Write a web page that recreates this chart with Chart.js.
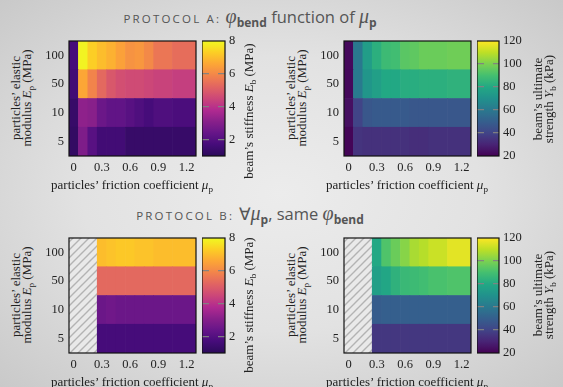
<!DOCTYPE html>
<html>
<head>
<meta charset="utf-8">
<script src="https://cdn.jsdelivr.net/npm/chart.js@4.4.0/dist/chart.umd.min.js"></script>
<style>
html, body { margin: 0; padding: 0; }
body {
  width: 563px; height: 387px; overflow: hidden; position: relative;
  background: radial-gradient(ellipse at 50% 50%, #ececec 0%, #e2e2e2 50%, #c9c9c9 100%);
  font-family: "Liberation Serif", serif; color: #222;
}
canvas { position: absolute; }
.lbl { position: absolute; white-space: nowrap; text-align: center; font-size: 13px; line-height: 11px; transform: translate(-50%, -50%); }
.rot { transform: translate(-50%, -50%) rotate(-90deg); }
.sub { font-size: 0.7em; position: relative; top: 0.3em; font-style: normal; }
.title { position: absolute; white-space: nowrap; transform: translate(-50%, -50%); font-family: "Open Sans", sans-serif; font-size: 16.5px; color: #555; }
.sc { font-size: 11.5px; letter-spacing: 2.2px; }
.m { font-family: "Liberation Serif", serif; font-style: italic; font-size: 20px; }
.bs { font-weight: bold; font-size: 12px; position: relative; top: 0.35em; }
</style>
</head>
<body>

<div class="title" style="left:250px; top:16px"><span class="sc">PROTOCOL A:</span> <span class="m">φ</span><span class="bs">bend</span> function of <span class="m">μ</span><span class="bs">p</span></div>
<div class="title" style="left:250px; top:213px"><span class="sc">PROTOCOL B:</span> ∀<span class="m">μ</span><span class="bs">p</span>, same <span class="m">φ</span><span class="bs">bend</span></div>

<canvas id="hmStiffA" width="163" height="143" style="left:39px; top:35px"></canvas>
<canvas id="cbStiffA" width="47" height="127" style="left:202px; top:33px"></canvas>
<canvas id="hmStrengthA" width="163" height="143" style="left:314px; top:35px"></canvas>
<canvas id="cbStrengthA" width="56" height="127" style="left:477px; top:33px"></canvas>
<canvas id="hmStiffB" width="163" height="143" style="left:39px; top:232px"></canvas>
<canvas id="cbStiffB" width="47" height="127" style="left:202px; top:230px"></canvas>
<canvas id="hmStrengthB" width="163" height="143" style="left:314px; top:232px"></canvas>
<canvas id="cbStrengthB" width="56" height="127" style="left:477px; top:230px"></canvas>

<div class="lbl rot" style="left:22px; top:98px">particles’ elastic<br>modulus <i>E</i><span class="sub">p</span> (MPa)</div>
<div class="lbl rot" style="left:297px; top:98px">particles’ elastic<br>modulus <i>E</i><span class="sub">p</span> (MPa)</div>
<div class="lbl rot" style="left:22px; top:295px">particles’ elastic<br>modulus <i>E</i><span class="sub">p</span> (MPa)</div>
<div class="lbl rot" style="left:297px; top:295px">particles’ elastic<br>modulus <i>E</i><span class="sub">p</span> (MPa)</div>

<div class="lbl rot" style="left:249px; top:111px">beam’s stiffness <i>E</i><span class="sub">b</span> (MPa)</div>
<div class="lbl rot" style="left:249px; top:305px">beam’s stiffness <i>E</i><span class="sub">b</span> (MPa)</div>
<div class="lbl rot" style="left:544px; top:99px">beam’s ultimate<br>strength <i>Y</i><span class="sub">b</span> (kPa)</div>
<div class="lbl rot" style="left:544px; top:295px">beam’s ultimate<br>strength <i>Y</i><span class="sub">b</span> (kPa)</div>

<div class="lbl" style="left:132px; top:185px">particles’ friction coefficient <i>μ</i><span class="sub">p</span></div>
<div class="lbl" style="left:407px; top:185px">particles’ friction coefficient <i>μ</i><span class="sub">p</span></div>
<div class="lbl" style="left:132px; top:382px">particles’ friction coefficient <i>μ</i><span class="sub">p</span></div>
<div class="lbl" style="left:407px; top:382px">particles’ friction coefficient <i>μ</i><span class="sub">p</span></div>

<script>
// rows: particles' elastic modulus E_p (MPa), top to bottom
var rows = ['100', '50', '10', '5'];
// columns: particles' friction coefficient mu_p and the cell edges around them
var muValues = [0, 0.1, 0.2, 0.3, 0.4, 0.5, 0.6, 0.7, 0.8, 0.95, 1.2];
var muEdges = [-0.05, 0.05, 0.15, 0.25, 0.35, 0.45, 0.55, 0.65, 0.75, 0.85, 1.05, 1.3];
var muTicks = [0, 0.3, 0.6, 0.9, 1.2];
var stiffTicks = [2, 4, 6, 8];
var strengthTicks = [20, 40, 60, 80, 100, 120];

// protocol A, beam's stiffness E_b (MPa)
var stiffA = [
  [1.7, 7.9, 7.3, 7.0, 6.8, 6.5, 6.2, 6.3, 6.0, 5.6, 5.4],
  [1.6, 6.6, 5.9, 5.3, 4.9, 4.7, 4.6, 4.6, 4.5, 4.4, 4.3],
  [1.3, 3.2, 3.1, 2.5, 2.3, 2.3, 2.1, 1.9, 1.7, 1.9, 1.8],
  [1.2, 2.9, 2.1, 1.6, 1.6, 1.6, 1.3, 1.3, 1.3, 1.3, 1.3]
];
// protocol A, beam's ultimate strength Y_b (kPa)
var strengthA = [
  [22, 60, 75, 83, 88, 89, 94, 95, 97, 97, 98],
  [22, 61, 72, 76, 80, 80, 82, 82, 83, 83, 84],
  [24, 40, 47, 48, 48, 48, 48, 47, 47, 47, 47],
  [21, 35, 34, 34, 34, 34, 34, 33, 33, 34, 34]
];
// protocol B (no run for mu_p < 0.3)
var stiffB = [
  [null, null, null, 7.0, 7.1, 7.2, 7.2, 7.1, 7.1, 7.0, 7.0],
  [null, null, null, 5.3, 5.3, 5.3, 5.3, 5.3, 5.3, 5.3, 5.3],
  [null, null, null, 2.5, 2.6, 2.5, 2.5, 2.5, 2.5, 2.5, 2.5],
  [null, null, null, 1.7, 1.7, 1.7, 1.7, 1.7, 1.7, 1.7, 1.7]
];
var strengthB = [
  [null, null, null, 80, 92, 97, 102, 107, 109, 112, 116],
  [null, null, null, 76, 79, 84, 87, 88, 89, 91, 92],
  [null, null, null, 49, 50, 50, 50, 50, 50, 50, 50],
  [null, null, null, 36, 36, 36, 36, 36, 36, 36, 36]
];

var plasma = ['#2b0a5a', '#460c7a', '#661588', '#88208a', '#b12a90', '#cc4778', '#e16462', '#f2844b', '#fca636', '#fcce25', '#f0f921'];
var viridis = ['#440154', '#482475', '#414487', '#355f8d', '#2a788e', '#21918c', '#22a884', '#44bf70', '#7ad151', '#bddf26', '#fde725'];

Chart.defaults.font.family = '"Liberation Serif", serif';
Chart.defaults.font.size = 12.5;
Chart.defaults.color = '#222';

function hex(h) {
  return [parseInt(h.substr(1, 2), 16), parseInt(h.substr(3, 2), 16), parseInt(h.substr(5, 2), 16)];
}
function cmapColor(stops, t) {
  t = Math.max(0, Math.min(1, t));
  var f = t * (stops.length - 1);
  var i = Math.min(Math.floor(f), stops.length - 2);
  var a = hex(stops[i]), b = hex(stops[i + 1]), k = f - i;
  return 'rgb(' + [0, 1, 2].map(function (j) { return Math.round(a[j] + (b[j] - a[j]) * k); }).join(',') + ')';
}

var hatchTile = document.createElement('canvas');
hatchTile.width = 8; hatchTile.height = 8;
(function () {
  var g = hatchTile.getContext('2d');
  g.fillStyle = '#e9e9e9';
  g.fillRect(0, 0, 8, 8);
  g.strokeStyle = '#b3b3b3';
  g.lineWidth = 1.4;
  g.beginPath();
  g.moveTo(-2, 10); g.lineTo(10, -2);
  g.moveTo(-2, 2); g.lineTo(2, -2);
  g.moveTo(6, 10); g.lineTo(10, 6);
  g.stroke();
})();
var hatch = hatchTile.getContext('2d').createPattern(hatchTile, 'repeat');

var frame = {
  id: 'frame',
  afterDraw: function (chart) {
    var a = chart.chartArea, ctx = chart.ctx;
    ctx.save();
    ctx.strokeStyle = '#111';
    ctx.lineWidth = 1.2;
    ctx.strokeRect(a.left, a.top, a.right - a.left, a.bottom - a.top);
    ctx.restore();
  }
};

function noPad(s) {
  s.paddingTop = 0; s.paddingBottom = 0; s.paddingLeft = 0; s.paddingRight = 0;
}

function cells(values) {
  var out = [];
  values.forEach(function (row, r) {
    row.forEach(function (v, c) {
      out.push({ y: rows[r], x: [muEdges[c], muEdges[c + 1]], v: v });
    });
  });
  return out;
}

function heatmap(id, values, stops, vmin, vmax) {
  new Chart(document.getElementById(id), {
    type: 'bar',
    data: {
      labels: rows,
      datasets: [{
        data: cells(values),
        backgroundColor: function (ctx) {
          if (!ctx.raw) return '#ccc';
          if (ctx.raw.v === null) return hatch;
          return cmapColor(stops, (ctx.raw.v - vmin) / (vmax - vmin));
        },
        borderWidth: 0,
        grouped: false,
        barPercentage: 1,
        categoryPercentage: 1
      }]
    },
    options: {
      indexAxis: 'y',
      responsive: false,
      animation: false,
      layout: { padding: { top: 6, right: 6, left: 0, bottom: 0 } },
      plugins: { legend: { display: false }, tooltip: { enabled: false } },
      scales: {
        x: {
          type: 'linear', min: -0.05, max: 1.3,
          grid: { display: false, drawTicks: false },
          border: { display: false },
          afterBuildTicks: function (s) { s.ticks = muTicks.map(function (v) { return { value: v }; }); },
          afterFit: function (s) { s.height = 22; noPad(s); },
          ticks: { padding: 4, maxRotation: 0, callback: function (v) { return String(v); } }
        },
        y: {
          type: 'category',
          grid: { display: false, drawTicks: false },
          border: { display: false },
          afterFit: function (s) { s.width = 30; noPad(s); },
          ticks: { padding: 5 }
        }
      }
    },
    plugins: [frame]
  });
}

function colorbar(id, stops, vmin, vmax, ticks, axisWidth) {
  new Chart(document.getElementById(id), {
    type: 'bar',
    data: {
      labels: [''],
      datasets: [{
        data: [[vmin, vmax]],
        backgroundColor: function (ctx) {
          var a = ctx.chart.chartArea;
          if (!a) return '#ccc';
          var g = ctx.chart.ctx.createLinearGradient(0, a.bottom, 0, a.top);
          for (var i = 0; i <= 40; i++) g.addColorStop(i / 40, cmapColor(stops, i / 40));
          return g;
        },
        borderWidth: 0,
        barPercentage: 1,
        categoryPercentage: 1
      }]
    },
    options: {
      responsive: false,
      animation: false,
      layout: { padding: { top: 8, bottom: 4, left: 0, right: 0 } },
      plugins: { legend: { display: false }, tooltip: { enabled: false } },
      scales: {
        x: { display: false },
        y: {
          position: 'right', min: vmin, max: vmax,
          afterBuildTicks: function (s) { s.ticks = ticks.map(function (v) { return { value: v }; }); },
          afterFit: function (s) { s.width = axisWidth; noPad(s); },
          border: { display: false, dash: [7, 9] },
          grid: {
            z: 1, drawTicks: false, lineWidth: 1.2,
            color: function (ctx) {
              var v = ctx.tick && ctx.tick.value;
              return (v > vmin && v < vmax) ? 'rgba(130,130,130,0.95)' : 'rgba(0,0,0,0)';
            }
          },
          ticks: { padding: 4, callback: function (v) { return String(v); } }
        }
      }
    },
    plugins: [frame]
  });
}

heatmap('hmStiffA', stiffA, plasma, 1, 8);
heatmap('hmStrengthA', strengthA, viridis, 20, 120);
heatmap('hmStiffB', stiffB, plasma, 1, 8);
heatmap('hmStrengthB', strengthB, viridis, 20, 120);
colorbar('cbStiffA', plasma, 1, 8, stiffTicks, 24);
colorbar('cbStrengthA', viridis, 20, 120, strengthTicks, 34);
colorbar('cbStiffB', plasma, 1, 8, stiffTicks, 24);
colorbar('cbStrengthB', viridis, 20, 120, strengthTicks, 34);
</script>
</body>
</html>
